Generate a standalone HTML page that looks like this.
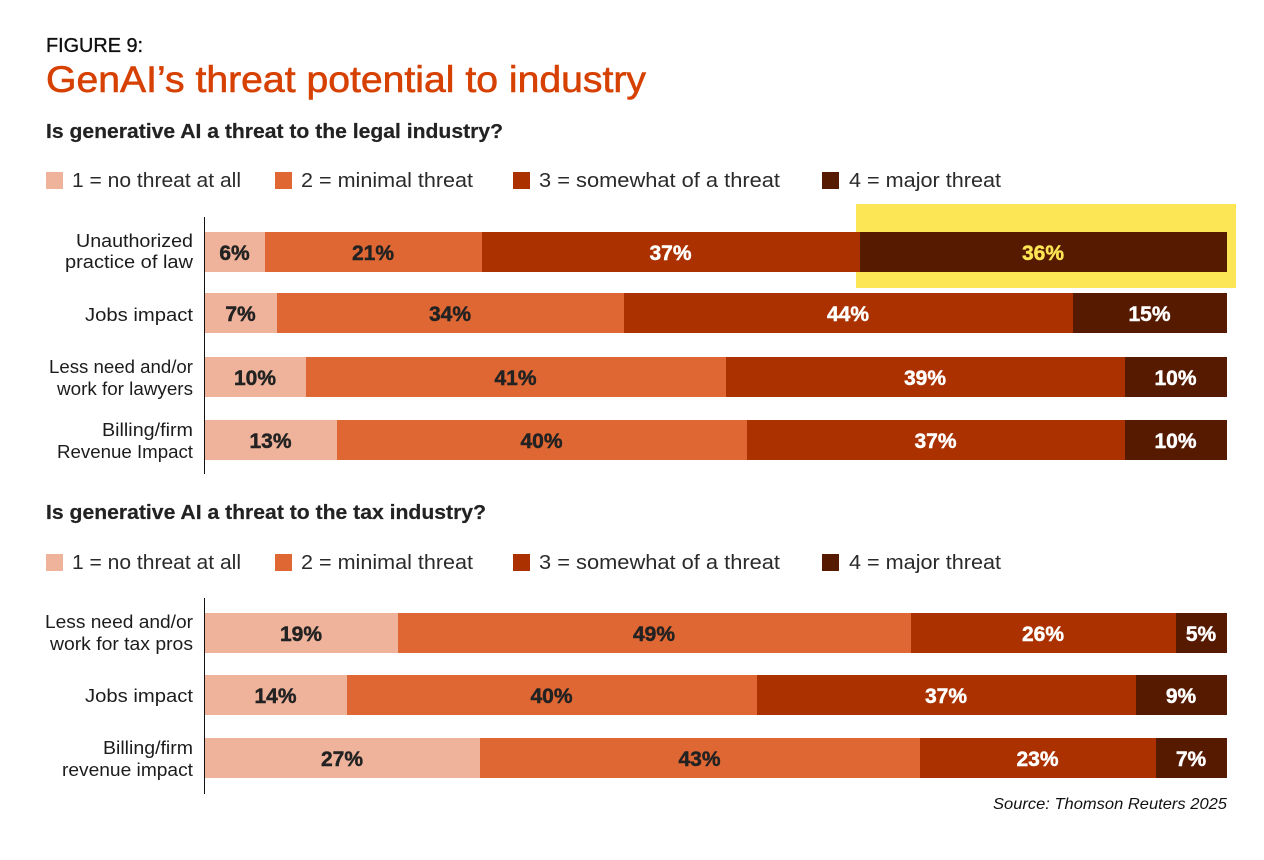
<!DOCTYPE html>
<html lang="en">
<head>
<meta charset="utf-8">
<title>GenAI's threat potential to industry</title>
<style>
html,body{margin:0;padding:0;background:#fff;width:1264px;height:860px;overflow:hidden}
svg{display:block}
text{font-family:"Liberation Sans",Arial,sans-serif}
.sub{font-size:20px;font-weight:700;fill:#222;stroke:#222;stroke-width:.2}
.leg{font-size:20px;fill:#2a2a2a}
.cat{font-size:18px;fill:#1c1c1c;text-anchor:end}
.val{font-size:21px;font-weight:700;text-anchor:middle;stroke-width:.45}
</style>
</head>
<body>
<svg id="chart" width="1264" height="860" viewBox="0 0 1264 860" xmlns="http://www.w3.org/2000/svg">
  <rect x="0" y="0" width="1264" height="860" fill="#ffffff"/>
  <text x="46" y="52" font-size="20" fill="#111" stroke="#111" stroke-width="0.35" textLength="97" lengthAdjust="spacingAndGlyphs">FIGURE 9:</text>
  <text x="46" y="92" font-size="37" fill="#d64000" stroke="#d64000" stroke-width="0.6" textLength="600" lengthAdjust="spacingAndGlyphs">GenAI’s threat potential to industry</text>

  <text class="sub" x="46" y="138" textLength="457" lengthAdjust="spacingAndGlyphs">Is generative AI a threat to the legal industry?</text>

  <g>
    <rect x="46" y="172" width="17" height="17" fill="#efb39b"/>
    <text class="leg" x="72" y="187" textLength="169" lengthAdjust="spacingAndGlyphs">1 = no threat at all</text>
    <rect x="275" y="172" width="17" height="17" fill="#df6733"/>
    <text class="leg" x="301" y="187" textLength="172" lengthAdjust="spacingAndGlyphs">2 = minimal threat</text>
    <rect x="513" y="172" width="17" height="17" fill="#ab3200"/>
    <text class="leg" x="539" y="187" textLength="241" lengthAdjust="spacingAndGlyphs">3 = somewhat of a threat</text>
    <rect x="822" y="172" width="17" height="17" fill="#561a00"/>
    <text class="leg" x="849" y="187" textLength="152" lengthAdjust="spacingAndGlyphs">4 = major threat</text>
  </g>

  <rect x="856" y="204" width="380" height="84" fill="#fde655"/>

  <g>
    <text class="cat" x="193" y="247" textLength="117" lengthAdjust="spacingAndGlyphs">Unauthorized</text>
    <text class="cat" x="193" y="268" textLength="128" lengthAdjust="spacingAndGlyphs">practice of law</text>
    <text class="cat" x="193" y="321" textLength="108" lengthAdjust="spacingAndGlyphs">Jobs impact</text>
    <text class="cat" x="193" y="373" textLength="144" lengthAdjust="spacingAndGlyphs">Less need and/or</text>
    <text class="cat" x="193" y="395" textLength="136" lengthAdjust="spacingAndGlyphs">work for lawyers</text>
    <text class="cat" x="193" y="436" textLength="91" lengthAdjust="spacingAndGlyphs">Billing/firm</text>
    <text class="cat" x="193" y="458" textLength="136" lengthAdjust="spacingAndGlyphs">Revenue Impact</text>
  </g>

  <g>
    <g id="legal-row-0" transform="translate(0,232)"></g>
    <g id="legal-row-1" transform="translate(0,293)"></g>
    <g id="legal-row-2" transform="translate(0,357)"></g>
    <g id="legal-row-3" transform="translate(0,420)"></g>
  </g>
  <line x1="204.5" y1="217" x2="204.5" y2="474" stroke="#111" stroke-width="1"/>

  <text class="sub" x="46" y="519" textLength="440" lengthAdjust="spacingAndGlyphs">Is generative AI a threat to the tax industry?</text>

  <g>
    <rect x="46" y="554" width="17" height="17" fill="#efb39b"/>
    <text class="leg" x="72" y="569" textLength="169" lengthAdjust="spacingAndGlyphs">1 = no threat at all</text>
    <rect x="275" y="554" width="17" height="17" fill="#df6733"/>
    <text class="leg" x="301" y="569" textLength="172" lengthAdjust="spacingAndGlyphs">2 = minimal threat</text>
    <rect x="513" y="554" width="17" height="17" fill="#ab3200"/>
    <text class="leg" x="539" y="569" textLength="241" lengthAdjust="spacingAndGlyphs">3 = somewhat of a threat</text>
    <rect x="822" y="554" width="17" height="17" fill="#561a00"/>
    <text class="leg" x="849" y="569" textLength="152" lengthAdjust="spacingAndGlyphs">4 = major threat</text>
  </g>

  <g>
    <text class="cat" x="193" y="628" textLength="148" lengthAdjust="spacingAndGlyphs">Less need and/or</text>
    <text class="cat" x="193" y="650" textLength="143" lengthAdjust="spacingAndGlyphs">work for tax pros</text>
    <text class="cat" x="193" y="702" textLength="108" lengthAdjust="spacingAndGlyphs">Jobs impact</text>
    <text class="cat" x="193" y="754" textLength="90" lengthAdjust="spacingAndGlyphs">Billing/firm</text>
    <text class="cat" x="193" y="776" textLength="131" lengthAdjust="spacingAndGlyphs">revenue impact</text>
  </g>

  <g>
    <g id="tax-row-0" transform="translate(0,613)"></g>
    <g id="tax-row-1" transform="translate(0,675)"></g>
    <g id="tax-row-2" transform="translate(0,738)"></g>
  </g>
  <line x1="204.5" y1="598" x2="204.5" y2="794" stroke="#111" stroke-width="1"/>

  <text x="1227" y="809" font-size="16" font-style="italic" fill="#111" text-anchor="end" textLength="234" lengthAdjust="spacingAndGlyphs">Source: Thomson Reuters 2025</text>
</svg>
<script>
// Segment lengths (share of respondents, %)
var legalNoThreat = [5.9, 7, 9.9, 12.9];
var legalMinimal = [21.2, 34, 41.1, 40.1];
var legalSomewhat = [37, 43.9, 39, 37];
var legalMajor = [35.9, 15.1, 10, 10];

var taxNoThreat = [18.9, 13.9, 26.9];
var taxMinimal = [50.2, 40.1, 43.1];
var taxSomewhat = [25.9, 37.1, 23.1];
var taxMajor = [5, 8.9, 6.9];

// Percentages as printed on the bars
var legalPrintedNoThreat = [6, 7, 10, 13];
var legalPrintedMinimal = [21, 34, 41, 40];
var legalPrintedSomewhat = [37, 44, 39, 37];
var legalPrintedMajor = [36, 15, 10, 10];

var taxPrintedNoThreat = [19, 14, 27];
var taxPrintedMinimal = [49, 40, 43];
var taxPrintedSomewhat = [26, 37, 23];
var taxPrintedMajor = [5, 9, 7];

var seriesNames = ['no-threat', 'minimal-threat', 'somewhat-threat', 'major-threat'];

var SVG_NS = 'http://www.w3.org/2000/svg';
var PLOT_LEFT = 205;
var PLOT_WIDTH = 1022;
var BAR_HEIGHT = 40;
var FILLS = ['#efb39b', '#df6733', '#ab3200', '#561a00'];
var LABEL_FILLS = ['#222222', '#222222', '#ffffff', '#ffffff'];

function xScale(pct) {
  return Math.round(PLOT_LEFT + pct / 100 * PLOT_WIDTH);
}

function drawPanel(prefix, series, printed) {
  var rowCount = series[0].length;
  for (var r = 0; r < rowCount; r++) {
    var group = document.getElementById(prefix + '-row-' + r);
    var cumulative = 0;
    for (var s = 0; s < series.length; s++) {
      var value = series[s][r];
      var x0 = xScale(cumulative);
      var x1 = xScale(cumulative + value);
      cumulative += value;

      var rect = document.createElementNS(SVG_NS, 'rect');
      
      
      rect.setAttribute('x', x0);
      rect.setAttribute('y', 0);
      rect.setAttribute('width', x1 - x0);
      rect.setAttribute('height', BAR_HEIGHT);
      rect.setAttribute('fill', FILLS[s]);
      group.appendChild(rect);

      var highlighted = prefix === 'legal' && r === 0 && s === 3;
      var labelFill = highlighted ? '#fde655' : LABEL_FILLS[s];
      var label = document.createElementNS(SVG_NS, 'text');
      
      
      label.setAttribute('class', 'val');
      label.setAttribute('x', (x0 + x1) / 2 - 0.5);
      label.setAttribute('y', 28);
      label.setAttribute('fill', labelFill);
      label.setAttribute('stroke', labelFill);
      label.textContent = printed[s][r] + '%';
      group.appendChild(label);
    }
  }
}

drawPanel('legal',
  [legalNoThreat, legalMinimal, legalSomewhat, legalMajor],
  [legalPrintedNoThreat, legalPrintedMinimal, legalPrintedSomewhat, legalPrintedMajor]);
drawPanel('tax',
  [taxNoThreat, taxMinimal, taxSomewhat, taxMajor],
  [taxPrintedNoThreat, taxPrintedMinimal, taxPrintedSomewhat, taxPrintedMajor]);
</script>
</body>
</html>
